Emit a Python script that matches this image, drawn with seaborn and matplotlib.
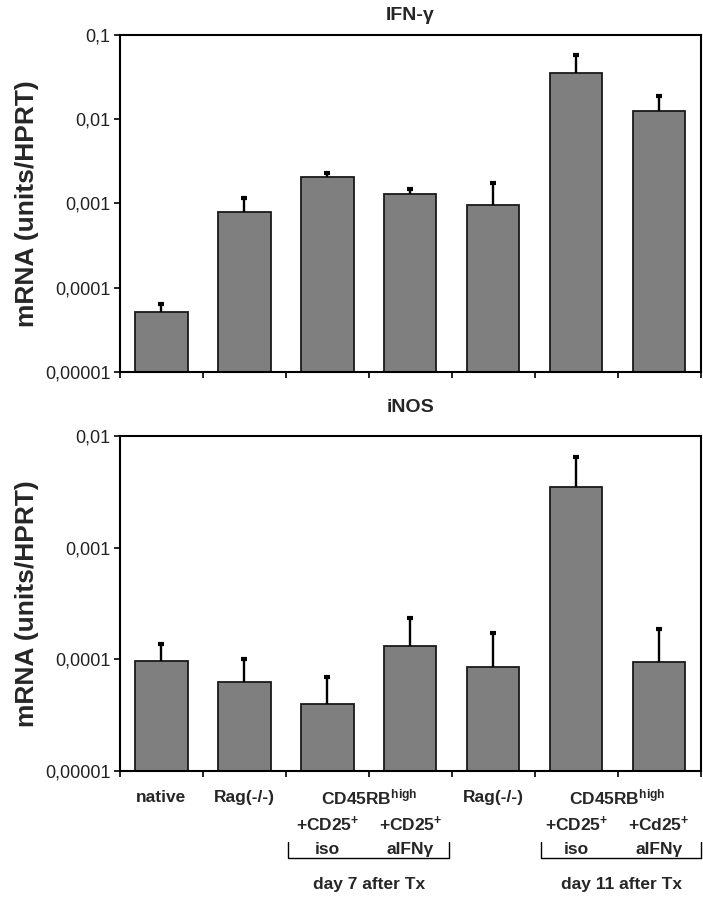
import numpy as np
import pandas as pd
import seaborn as sns
import matplotlib.pyplot as plt
from matplotlib.ticker import FixedLocator, NullLocator

# groups (left to right)
groups = ['native', 'Rag d7', 'iso d7', 'aIFNg d7', 'Rag d11', 'iso d11', 'aIFNg d11']

# IFN-gamma mRNA (units/HPRT), mean and mean+error
ifng_mean = [5.2e-5, 8.0e-4, 2.06e-3, 1.28e-3, 9.6e-4, 0.0355, 0.0126]
ifng_top = [6.5e-5, 1.17e-3, 2.33e-3, 1.48e-3, 1.73e-3, 0.0577, 0.0188]

# iNOS mRNA (units/HPRT)
inos_mean = [9.7e-5, 6.3e-5, 4.0e-5, 1.32e-4, 8.6e-5, 3.47e-3, 9.5e-5]
inos_top = [1.37e-4, 1.0e-4, 7.0e-5, 2.33e-4, 1.71e-4, 6.5e-3, 1.87e-4]

ifng_ticks = [1e-5, 1e-4, 1e-3, 1e-2, 1e-1]
ifng_ticklabels = ['0,00001', '0,0001', '0,001', '0,01', '0,1']
inos_ticks = [1e-5, 1e-4, 1e-3, 1e-2]
inos_ticklabels = ['0,00001', '0,0001', '0,001', '0,01']

sns.set_style('white')
plt.rcParams['font.family'] = ['Liberation Sans', 'DejaVu Sans']
plt.rcParams['mathtext.fontset'] = 'custom'
plt.rcParams['mathtext.rm'] = 'Liberation Sans:weight=bold'
plt.rcParams['mathtext.bf'] = 'Liberation Sans:weight=bold'
plt.rcParams['mathtext.it'] = 'Liberation Sans:weight=bold'
plt.rcParams['mathtext.default'] = 'rm'

fig = plt.figure(figsize=(7.03, 8.99), dpi=100)
ax1 = fig.add_axes([0.1707, 0.5862, 0.826, 0.3749])
ax2 = fig.add_axes([0.1707, 0.1424, 0.826, 0.3726])


def panel(ax, mean, top, ticks, ticklabels, title, tpad):
    ax.set_yscale('log')
    df = pd.DataFrame({'group': groups, 'val': mean})
    sns.barplot(data=df, x='group', y='val', color='#7f7f7f', saturation=1,
                edgecolor='#1a1a1a', linewidth=1.3, width=0.63, errorbar=None, ax=ax)
    x = np.arange(len(groups))
    ax.vlines(x, mean, top, color='black', lw=1.7, zorder=3)
    ax.plot(x, top, ls='none', marker='_', ms=5, mew=3, color='black', zorder=3)
    ax.set_ylim(ticks[0], ticks[-1])
    ax.set_xlim(-0.5, len(groups) - 0.5)
    ax.yaxis.set_major_locator(FixedLocator(ticks))
    ax.yaxis.set_minor_locator(NullLocator())
    ax.set_yticklabels(ticklabels, fontsize=13, color='#222222')
    ax.set_xticks(np.arange(len(groups) + 1) - 0.5)
    ax.set_xticklabels([])
    ax.tick_params(axis='both', direction='out', length=4, width=1.2, color='black',
                   left=True, bottom=True, pad=3)
    for s in ax.spines.values():
        s.set_color('black')
        s.set_linewidth(1.5)
        s.set_visible(True)
    ax.set_xlabel('')
    ax.set_ylabel('mRNA (units/HPRT)', fontsize=19, fontweight='bold')
    ax.yaxis.set_label_coords(-0.14, 0.5)
    ax.set_title(title, fontsize=14, fontweight='bold', pad=tpad)


panel(ax1, ifng_mean, ifng_top, ifng_ticks, ifng_ticklabels, 'IFN-γ', 11)
panel(ax2, inos_mean, inos_top, inos_ticks, inos_ticklabels, 'iNOS', 17)

# group annotations under the lower panel
tr = ax2.get_xaxis_transform()
kw = dict(transform=tr, ha='center', va='center', fontsize=12.5, fontweight='bold')
ax2.text(0, -0.078, 'native', **kw)
ax2.text(1, -0.078, 'Rag(-/-)', **kw)
ax2.text(2.5, -0.078, r'CD45RB$^{high}$', **kw)
ax2.text(4, -0.078, 'Rag(-/-)', **kw)
ax2.text(5.5, -0.078, r'CD45RB$^{high}$', **kw)
ax2.text(2, -0.158, r'+CD25$^{+}$', **kw)
ax2.text(3, -0.158, r'+CD25$^{+}$', **kw)
ax2.text(5, -0.158, r'+CD25$^{+}$', **kw)
ax2.text(6, -0.158, r'+Cd25$^{+}$', **kw)
ax2.text(2, -0.233, 'iso', **kw)
ax2.text(3, -0.233, 'aIFNγ', **kw)
ax2.text(5, -0.233, 'iso', **kw)
ax2.text(6, -0.233, 'aIFNγ', **kw)

for x0, x1 in [(1.53, 3.47), (4.58, 6.5)]:
    ax2.plot([x0, x0, x1, x1], [-0.212, -0.260, -0.260, -0.212], color='black',
             lw=1.0, transform=tr, clip_on=False)
ax2.text(2.5, -0.340, 'day 7 after Tx', **kw)
ax2.text(5.55, -0.340, 'day 11 after Tx', **kw)

fig.savefig('out.png', dpi=100)
